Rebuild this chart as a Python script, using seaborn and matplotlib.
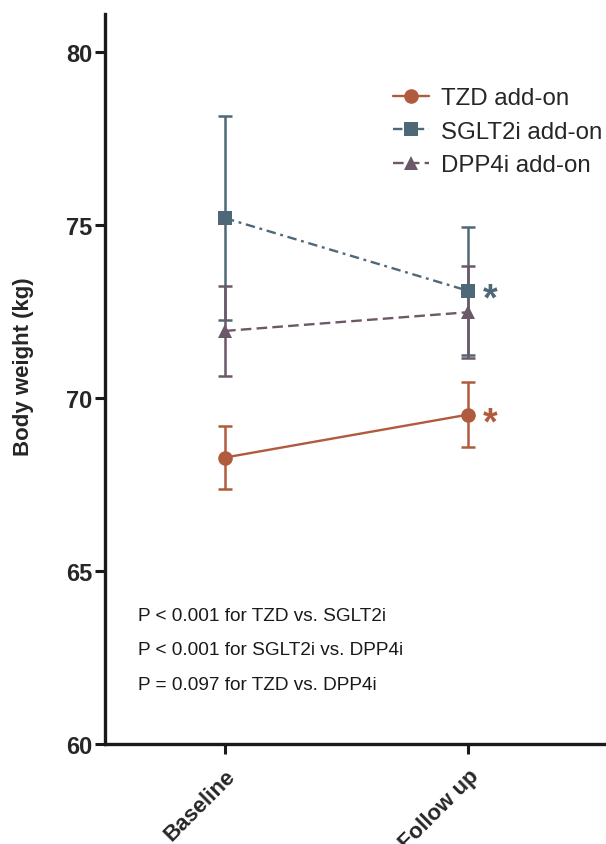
import matplotlib
matplotlib.use("Agg")
import matplotlib.pyplot as plt
import seaborn as sns
import pandas as pd

# ---- data ----
timepoints = ["Baseline", "Follow up"]
groups = ["TZD add-on", "SGLT2i add-on", "DPP4i add-on"]
tzd_mean = [68.28, 69.52]
tzd_err = [0.90, 0.93]
sglt2i_mean = [75.20, 73.10]
sglt2i_err = [2.95, 1.85]
dpp4i_mean = [71.94, 72.48]
dpp4i_err = [1.31, 1.33]
significant = [True, True, False]  # follow-up asterisks
p_texts = ["P < 0.001 for TZD vs. SGLT2i",
           "P < 0.001 for SGLT2i vs. DPP4i",
           "P = 0.097 for TZD vs. DPP4i"]
yticks = [60, 65, 70, 75, 80]

means = [tzd_mean, sglt2i_mean, dpp4i_mean]
errs = [tzd_err, sglt2i_err, dpp4i_err]
colors = ["#b05a3e", "#4f6878", "#6b5868"]
markers = ["o", "s", "^"]
dashes = [(None, None), (4, 2, 1.2, 2), (4.5, 2.2)]

sns.set_style("ticks")
plt.rcParams["font.family"] = ["Liberation Sans", "DejaVu Sans"]

fig = plt.figure(figsize=(6.06, 8.45), dpi=100)
ax = fig.add_axes([105 / 606, 1 - 745 / 845, 1 - 105 / 606, 730 / 845])

rows = []
for g, m in zip(groups, means):
    for t, v in zip(timepoints, m):
        rows.append({"group": g, "time": t, "weight": v})
df = pd.DataFrame(rows)

for i, g in enumerate(groups):
    sub = df[df["group"] == g]
    ls = "-" if i == 0 else "--"
    sns.lineplot(data=sub, x="time", y="weight", ax=ax, color=colors[i],
                 marker=markers[i], markersize=10 if i else 10.5,
                 markeredgewidth=0, linewidth=1.7, linestyle=ls,
                 label=g, sort=False, zorder=3)
    line = ax.lines[-1]
    if i > 0:
        line.set_dashes(dashes[i])
    ax.errorbar(range(len(timepoints)), means[i], yerr=errs[i], fmt="none",
                ecolor=colors[i], elinewidth=1.8, capsize=5, capthick=1.8,
                zorder=2)
    if significant[i]:
        ax.text(1.062, means[i][1] - 0.25, "*", color=colors[i], fontsize=27,
                ha="left", va="center", fontweight="bold")

ax.set_ylim(60, 81.1)
ax.set_xlim(-0.494, 1.568)
ax.set_yticks(yticks)
ax.set_yticklabels([str(v) for v in yticks], fontsize=17, fontweight="bold")
ax.set_xticks(range(len(timepoints)))
ax.set_xticklabels(timepoints, fontsize=16, fontweight="bold", rotation=45,
                   ha="right", rotation_mode="anchor")
ax.set_xlabel("")
ax.set_ylabel("Body weight (kg)", fontsize=16, fontweight="bold")
ax.yaxis.set_label_coords(-0.142, 0.518)

for s in ["top", "right"]:
    ax.spines[s].set_visible(False)
for s in ["left", "bottom"]:
    ax.spines[s].set_linewidth(2.4)
    ax.spines[s].set_color("#1a1a1a")
ax.tick_params(axis="both", width=2.2, length=7, color="#1a1a1a", pad=2)
ax.tick_params(axis="x", pad=8)

for k, t in enumerate(p_texts):
    ax.text(33 / 501, [0.176, 0.129, 0.081][k], t,
            transform=ax.transAxes, fontsize=13.7, ha="left", va="center",
            color="#1a1a1a")

leg = ax.legend(loc="upper left", bbox_to_anchor=(393 / 606, 1 - 88 / 845),
                bbox_transform=fig.transFigure, frameon=False, fontsize=17.3,
                handlelength=1.5, handletextpad=0.5, labelspacing=0.48,
                borderpad=0, borderaxespad=0)

fig.savefig("out.png", dpi=100)
